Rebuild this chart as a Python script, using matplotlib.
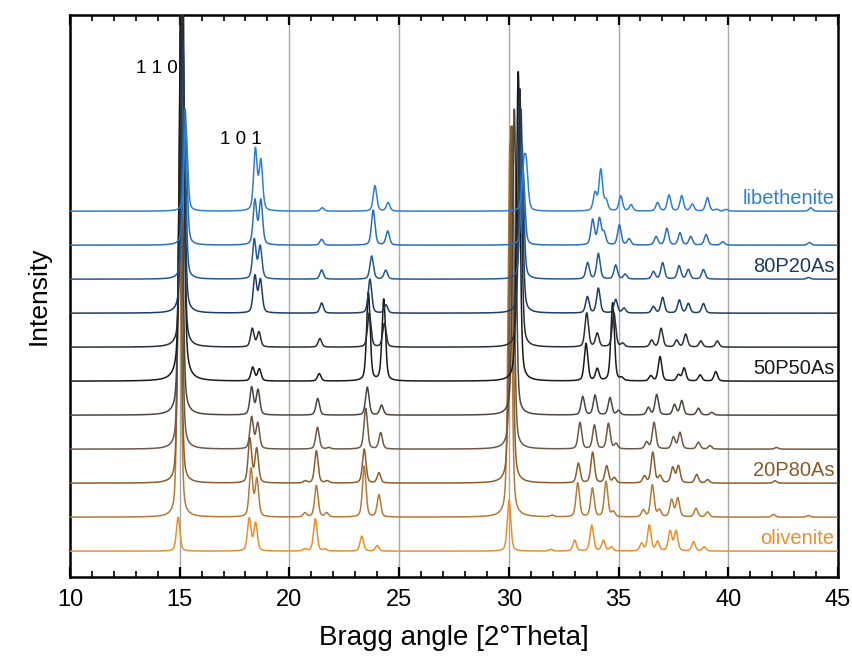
import numpy as np
import matplotlib
matplotlib.use("Agg")
import matplotlib.pyplot as plt
from matplotlib.ticker import MultipleLocator

# sample names, bottom (olivenite) to top (libethenite)
samples = ["olivenite", "", "20P80As", "", "", "50P50As", "", "", "80P20As", "", "libethenite"]
colors = ["#e8902a", "#b47a38", "#8b5e2e", "#6e5a44", "#4c463f", "#1a1a1a",
          "#262f3a", "#1f3d60", "#235a92", "#2b6fba", "#2f7fd2"]
label_colors = ["#e8902a", "", "#8b5a2b", "", "", "#1a1a1a", "", "", "#1f3d60", "", "#2f7fd2"]

# peak positions [2theta] and heights (offset units)
peaks_0 = [(14.93, 1.0), (18.17, 0.95), (18.46, 0.82), (20.7, 0.06), (21.18, 0.95), (21.62, 0.05),
           (23.3, 0.44), (24.0, 0.16), (30.01, 1.5), (31.92, 0.05), (33.0, 0.32), (33.78, 0.76),
           (34.31, 0.31), (34.67, 0.12), (36.05, 0.22), (36.4, 0.76), (36.78, 0.27), (37.35, 0.58),
           (37.62, 0.58), (38.42, 0.27), (38.9, 0.12)]
peaks_1 = [(14.98, 9.4), (18.25, 1.4), (18.52, 1.1), (20.71, 0.12), (21.23, 0.93), (21.7, 0.12),
           (23.41, 1.5), (24.08, 0.65), (30.05, 11.0), (31.98, 0.05), (33.14, 1.0), (33.81, 0.84),
           (34.43, 1.04), (34.76, 0.15), (36.13, 0.2), (36.54, 0.94), (36.86, 0.2), (37.42, 0.5),
           (37.7, 0.55), (38.53, 0.25), (39.06, 0.15), (42.06, 0.08), (43.65, 0.05)]
peaks_2 = [(15.0, 9.0), (18.2, 1.3), (18.51, 1.0), (20.72, 0.06), (21.23, 0.95), (21.72, 0.06),
           (23.41, 1.0), (24.08, 0.3), (30.1, 10.5), (33.17, 0.58), (33.82, 0.9), (34.46, 0.5),
           (34.81, 0.15), (36.18, 0.2), (36.56, 0.9), (36.89, 0.2), (37.47, 0.45), (37.73, 0.5),
           (38.56, 0.25), (39.06, 0.1), (42.13, 0.07)]
peaks_3 = [(15.03, 10.0), (18.28, 0.93), (18.56, 0.75), (21.28, 0.64), (21.8, 0.04), (23.48, 1.2),
           (24.16, 0.48), (30.16, 9.5), (33.24, 0.78), (33.9, 0.7), (34.54, 0.75), (34.89, 0.15),
           (36.28, 0.2), (36.62, 0.78), (37.5, 0.35), (37.8, 0.48), (38.64, 0.2), (39.17, 0.1),
           (42.2, 0.05)]
peaks_4 = [(15.05, 12.0), (18.28, 0.81), (18.57, 0.73), (21.29, 0.49), (23.55, 0.82), (24.2, 0.29),
           (30.25, 9.0), (33.37, 0.54), (33.93, 0.58), (34.61, 0.51), (35.0, 0.13), (36.36, 0.22),
           (36.74, 0.6), (37.55, 0.3), (37.88, 0.42), (38.64, 0.2), (39.25, 0.08)]
peaks_5 = [(15.1, 17.0), (18.33, 0.4), (18.63, 0.35), (21.36, 0.22), (23.6, 2.6), (24.3, 2.4),
           (30.43, 9.1), (33.52, 1.1), (34.03, 0.35), (34.73, 2.3), (35.14, 0.08), (36.47, 0.15),
           (36.89, 0.72), (37.73, 0.18), (37.99, 0.38), (38.72, 0.18), (39.43, 0.28)]
peaks_6 = [(15.12, 10.0), (18.31, 0.54), (18.61, 0.44), (21.39, 0.25), (23.64, 1.0), (24.33, 0.7),
           (30.5, 7.6), (33.55, 1.0), (34.03, 0.4), (34.79, 1.0), (35.19, 0.1), (36.51, 0.2),
           (36.94, 0.55), (37.65, 0.2), (38.06, 0.38), (38.75, 0.18), (39.5, 0.18)]
peaks_7 = [(15.15, 8.0), (18.43, 1.08), (18.68, 0.96), (21.47, 0.3), (23.67, 1.0), (24.4, 0.24),
           (30.55, 6.0), (33.58, 0.48), (34.08, 0.73), (34.87, 0.4), (35.25, 0.14), (36.59, 0.19),
           (37.01, 0.46), (37.77, 0.38), (38.18, 0.28), (38.87, 0.28)]
peaks_8 = [(15.2, 5.0), (18.4, 1.15), (18.67, 0.95), (21.47, 0.27), (23.75, 0.68), (24.39, 0.26),
           (30.6, 4.0), (33.59, 0.48), (34.08, 0.75), (34.87, 0.41), (35.3, 0.14), (36.59, 0.22),
           (37.01, 0.48), (37.76, 0.39), (38.18, 0.28), (38.87, 0.28), (43.65, 0.05)]
peaks_9 = [(15.25, 4.0), (18.43, 1.3), (18.7, 1.3), (21.47, 0.17), (23.82, 1.03), (24.48, 0.41),
           (30.65, 2.2), (33.82, 0.74), (34.13, 0.76), (34.34, 0.34), (35.04, 0.59), (35.48, 0.18),
           (36.71, 0.25), (37.2, 0.49), (37.8, 0.36), (38.29, 0.25), (38.99, 0.31), (39.75, 0.1),
           (43.7, 0.08)]
peaks_10 = [(15.28, 2.5), (18.45, 1.8), (18.7, 1.45), (21.5, 0.1), (23.9, 0.75), (24.5, 0.25),
            (30.68, 1.15), (30.8, 1.15), (33.93, 0.52), (34.19, 1.2), (34.43, 0.29), (35.1, 0.44),
            (35.57, 0.18), (36.78, 0.25), (37.3, 0.47), (37.88, 0.45), (38.36, 0.2), (39.05, 0.4),
            (39.47, 0.05), (39.9, 0.05), (43.76, 0.1)]
all_peaks = [peaks_0, peaks_1, peaks_2, peaks_3, peaks_4, peaks_5,
             peaks_6, peaks_7, peaks_8, peaks_9, peaks_10]

tt = np.arange(10, 45.001, 0.01)

def pattern(peaks, fwhm=0.19, eta=0.4):
    y = np.zeros_like(tt)
    s = fwhm / 2.3548
    g = fwhm / 2
    for pos, h in peaks:
        d = tt - pos
        y += h * ((1 - eta) * np.exp(-d**2 / (2 * s**2)) + eta / (1 + (d / g)**2))
    return y

fig = plt.figure(figsize=(8.53, 6.62), dpi=100)
ax = fig.add_axes([0.082, 0.1284, 0.9004, 0.8489])

for i, pk in enumerate(all_peaks):
    ax.plot(tt, pattern(pk) + i, color=colors[i], lw=1.1, zorder=3 + i * 0.01)
    if samples[i]:
        ax.text(44.85, i + 0.22, samples[i], color=label_colors[i], ha="right", va="baseline",
                fontsize=14.5, family=["Liberation Sans", "DejaVu Sans"], zorder=10)

ax.text(13.97, 14.2, "1 1 0", ha="center", va="center", fontsize=13.5,
        family=["Liberation Sans", "DejaVu Sans"])
ax.text(17.8, 12.1, "1 0 1", ha="center", va="center", fontsize=13.5,
        family=["Liberation Sans", "DejaVu Sans"])

ax.set_xlim(10, 45)
ax.set_ylim(-0.76, 15.77)
ax.xaxis.set_major_locator(MultipleLocator(5))
ax.xaxis.set_minor_locator(MultipleLocator(1))
ax.set_yticks([])
ax.grid(axis="x", which="major", color="#a8a8a8", lw=1.0, zorder=1)
ax.tick_params(axis="x", which="major", direction="in", length=7, width=1.6, top=True,
               labelsize=17, pad=9)
ax.tick_params(axis="x", which="minor", direction="in", length=4, width=1.2, top=True)
for lab in ax.get_xticklabels():
    lab.set_family(["Liberation Sans Narrow", "Liberation Sans", "DejaVu Sans"])
for sp in ax.spines.values():
    sp.set_linewidth(1.8)

ax.set_xlabel("Bragg angle [2°Theta]", fontsize=20, labelpad=10,
              family=["Liberation Sans Narrow", "Liberation Sans", "DejaVu Sans"])
ax.set_ylabel("Intensity", fontsize=19, labelpad=14, family=["Liberation Sans", "DejaVu Sans"])

fig.savefig("out.png", dpi=100)
